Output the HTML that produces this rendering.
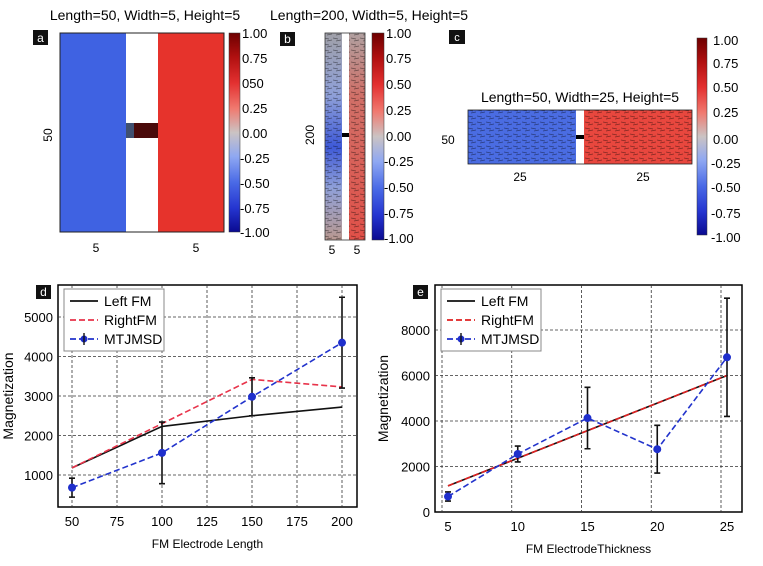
<!DOCTYPE html>
<html><head><meta charset="utf-8">
<style>
body{margin:0;background:#fff;width:763px;height:561px;overflow:hidden;font-family:"Liberation Sans",sans-serif;}
svg text{font-family:"Liberation Sans",sans-serif;}
</style></head>
<body>
<svg id="fig" width="763" height="561" xmlns="http://www.w3.org/2000/svg">
<defs>
<linearGradient id="cbar" x1="0" y1="0" x2="0" y2="1">
<stop offset="0" stop-color="#6e0000"/><stop offset="0.12" stop-color="#b01010"/>
<stop offset="0.25" stop-color="#e33030"/><stop offset="0.38" stop-color="#f07a70"/>
<stop offset="0.5" stop-color="#cbc3c3"/><stop offset="0.62" stop-color="#8fa8f2"/>
<stop offset="0.75" stop-color="#4a6ae6"/><stop offset="0.88" stop-color="#2535d0"/>
<stop offset="1" stop-color="#0a0a90"/></linearGradient>
<linearGradient id="bleft" x1="0" y1="0" x2="0" y2="1">
<stop offset="0" stop-color="#a0a0a8"/><stop offset="0.3" stop-color="#8fa0d8"/><stop offset="0.55" stop-color="#3f5ad8"/><stop offset="0.75" stop-color="#90a0d8"/><stop offset="1" stop-color="#b89890"/></linearGradient>
<linearGradient id="bright" x1="0" y1="0" x2="0" y2="1">
<stop offset="0" stop-color="#b0a0a0"/><stop offset="0.3" stop-color="#d07068"/><stop offset="1" stop-color="#e05048"/></linearGradient>
<pattern id="tex" width="9" height="6" patternUnits="userSpaceOnUse"><path d="M0 2 L5 3 M3 5 L8 4" stroke="#000" stroke-opacity="0.45" stroke-width="0.7"/></pattern>
</defs>

<!-- Panel a -->
<g>
<text x="145" y="20" font-size="14" text-anchor="middle">Length=50, Width=5, Height=5</text>
<rect x="33" y="30" width="15" height="15" fill="#111"/>
<text x="40.5" y="42" font-size="12" fill="#fff" text-anchor="middle">a</text>
<rect x="60" y="33" width="66" height="199" fill="#3f62e2"/>
<rect x="158" y="33" width="66" height="199" fill="#e6332c"/>
<rect x="126" y="123" width="32" height="15" fill="#4a0a0a"/>
<rect x="126" y="123" width="8" height="15" fill="#405070"/>
<rect x="60" y="33" width="164" height="199" fill="none" stroke="#222" stroke-width="1"/>
<text x="52" y="135" font-size="12" text-anchor="middle" transform="rotate(-90 52 135)">50</text>
<text x="96" y="252" font-size="12" text-anchor="middle">5</text>
<text x="196" y="252" font-size="12" text-anchor="middle">5</text>
<rect x="229" y="33" width="11" height="199" fill="url(#cbar)" stroke="#333" stroke-width="0.5"/>
<g font-size="13">
<text x="242" y="38">1.00</text><text x="242" y="63">0.75</text><text x="242" y="88">050</text><text x="242" y="113">0.25</text><text x="242" y="138">0.00</text><text x="240" y="163">-0.25</text><text x="240" y="188">-0.50</text><text x="240" y="213">-0.75</text><text x="240" y="237">-1.00</text></g>
</g>

<!-- Panel b -->
<g>
<text x="270" y="20" font-size="14">Length=200, Width=5, Height=5</text>
<rect x="280" y="32" width="15" height="14" fill="#111"/>
<text x="287.5" y="43" font-size="12" fill="#fff" text-anchor="middle">b</text>
<rect x="325" y="33" width="17" height="207" fill="url(#bleft)"/>
<rect x="349" y="33" width="16" height="207" fill="url(#bright)"/>
<rect x="325" y="33" width="17" height="207" fill="url(#tex)"/>
<rect x="349" y="33" width="16" height="207" fill="url(#tex)"/>
<rect x="342" y="133" width="7" height="4" fill="#000"/>
<rect x="325" y="33" width="40" height="207" fill="none" stroke="#333" stroke-width="0.8"/>
<text x="314" y="135" font-size="12" text-anchor="middle" transform="rotate(-90 314 135)">200</text>
<text x="332" y="254" font-size="12" text-anchor="middle">5</text>
<text x="357" y="254" font-size="12" text-anchor="middle">5</text>
<rect x="372" y="33" width="12" height="207" fill="url(#cbar)" stroke="#333" stroke-width="0.5"/>
<g font-size="13"><text x="386" y="38">1.00</text><text x="386" y="63">0.75</text><text x="386" y="89">0.50</text><text x="386" y="115">0.25</text><text x="386" y="141">0.00</text><text x="384" y="166">-0.25</text><text x="384" y="192">-0.50</text><text x="384" y="218">-0.75</text><text x="384" y="243">-1.00</text></g>
</g>

<!-- Panel c -->
<g>
<rect x="449" y="30" width="16" height="14" fill="#111"/>
<text x="457" y="41" font-size="11" fill="#fff" text-anchor="middle">c</text>
<text x="580" y="102" font-size="14" text-anchor="middle">Length=50, Width=25, Height=5</text>
<rect x="468" y="110" width="108" height="54" fill="#4a6ce2"/>
<rect x="584" y="110" width="108" height="54" fill="#e8473e"/>
<rect x="468" y="110" width="108" height="54" fill="url(#tex)"/>
<rect x="584" y="110" width="108" height="54" fill="url(#tex)"/>
<rect x="576" y="135" width="8" height="4" fill="#000"/>
<rect x="468" y="110" width="224" height="54" fill="none" stroke="#222" stroke-width="0.8"/>
<text x="448" y="144" font-size="12" text-anchor="middle">50</text>
<text x="520" y="181" font-size="12" text-anchor="middle">25</text>
<text x="643" y="181" font-size="12" text-anchor="middle">25</text>
<rect x="697" y="38" width="10" height="197" fill="url(#cbar)" stroke="#333" stroke-width="0.5"/>
<g font-size="13"><text x="713" y="45">1.00</text><text x="713" y="68">0.75</text><text x="713" y="92">0.50</text><text x="713" y="117">0.25</text><text x="713" y="144">0.00</text><text x="711" y="168">-0.25</text><text x="711" y="192">-0.50</text><text x="711" y="218">-0.75</text><text x="711" y="242">-1.00</text></g>
</g>

<g id="pd"></g>
<g id="pe"></g>
</svg>
<script>
const dX = [50, 100, 150, 200];
const dLeft = [1180, 2230, 2500, 2720];
const dRight = [1180, 2300, 3420, 3230];
const dMtj = [680, 1560, 2980, 4350];
const dErr = [240, 780, 480, 1150];
const dXTicks = [50, 75, 100, 125, 150, 175, 200];
const dYTicks = [1000, 2000, 3000, 4000, 5000];

const eX = [5, 10, 15, 20, 25];
const eLeft = [1150, 2362, 3575, 4787, 6000];
const eRight = [1150, 2362, 3575, 4787, 6000];
const eMtj = [680, 2550, 4130, 2760, 6800];
const eErr = [200, 350, 1350, 1050, 2600];
const eXTicks = [5, 10, 15, 20, 25];
const eYTicks = [0, 2000, 4000, 6000, 8000];

const NS = "http://www.w3.org/2000/svg";
function mk(p, tag, a){const e=document.createElementNS(NS,tag);for(const k in a)e.setAttribute(k,a[k]);p.appendChild(e);return e;}

function panel(g, cfg){
  const {x0,x1,y0,y1,sx,sy,xs,ys,xt,yt,gridOff,lbl,xl,leftCol,rightCol,L,R,M,E,xv}=cfg;
  mk(g,'rect',{x:x0,y:y0,width:x1-x0,height:y1-y0,fill:'#fff',stroke:'#000','stroke-width':1.5});
  yt.forEach(v=>{const y=sy(v);
    if(y>y0+2&&y<y1-2){const l=mk(g,'line',{x1:x0,x2:x1,y1:y,y2:y,stroke:'#333','stroke-width':0.8,'stroke-dasharray':'3,2'});
    }
    const t=mk(g,'text',{x:x0-5,y:y+5,'font-size':13,'text-anchor':'end'});t.textContent=v;
    });
  xt.forEach(v=>{const x=sx(v);
    const gx=x+gridOff;
    const l=mk(g,'line',{x1:gx,x2:gx,y1:y0,y2:y1,stroke:'#333','stroke-width':0.8,'stroke-dasharray':'3,2'});
    
    const t=mk(g,'text',{x:x,y:y1+19,'font-size':13,'text-anchor':'middle'});t.textContent=v;
    });
  const pts=a=>xv.map((v,i)=>sx(v)+','+sy(a[i])).join(' ');
  const lf=mk(g,'polyline',{points:pts(L),fill:'none',stroke:'#111','stroke-width':1.6});
  
  const rf=mk(g,'polyline',{points:pts(R),fill:'none',stroke:rightCol,'stroke-width':1.6,'stroke-dasharray':'6,3'});
  
  const mm=mk(g,'polyline',{points:pts(M),fill:'none',stroke:'#2233cc','stroke-width':1.6,'stroke-dasharray':'6,3'});
  
  xv.forEach((v,i)=>{const x=sx(v);const ya=sy(M[i]+E[i]),yb=sy(M[i]-E[i]);
    const eb=mk(g,'path',{d:`M${x} ${ya}V${yb}M${x-3} ${ya}H${x+3}M${x-3} ${yb}H${x+3}`,stroke:'#111','stroke-width':1.6,fill:'none'});
    
    const c=mk(g,'circle',{cx:x,cy:sy(M[i]),r:4,fill:'#1f2fcc'});
    });
  // label box
  const lb=mk(g,'rect',{x:x0-22,y:y0,width:15,height:14,fill:'#111'});
  const lt=mk(g,'text',{x:x0-14.5,y:y0+11,'font-size':12,fill:'#fff','text-anchor':'middle'});lt.textContent=lbl;
  
  // legend
  const lx=x0+6, ly=y0+4;
  const lg=mk(g,'g',{});
  
  mk(lg,'rect',{x:lx,y:ly,width:100,height:62,fill:'#fff',stroke:'#888','stroke-width':1});
  const names=['Left FM','RightFM','MTJMSD'];
  names.forEach((n,i)=>{const yy=ly+12+i*19;
    const ln=mk(lg,'line',{x1:lx+6,x2:lx+34,y1:yy,y2:yy,stroke:i==0?'#111':(i==1?rightCol:'#2233cc'),'stroke-width':1.8,'stroke-dasharray':i==0?'none':'6,3'});
    if(i==2){mk(lg,'circle',{cx:lx+20,cy:yy,r:3.5,fill:'#1f2fcc'});mk(lg,'line',{x1:lx+20,x2:lx+20,y1:yy-6,y2:yy+6,stroke:'#111','stroke-width':1.4});}
    const t=mk(lg,'text',{x:lx+40,y:yy+5,'font-size':14});t.textContent=n;
    });
  const xa=mk(g,'text',{x:(x0+x1)/2,y:y1+41,'font-size':12,'text-anchor':'middle'});xa.textContent=xl;
  
  const ya=mk(g,'text',{x:0,y:0,'font-size':14,'text-anchor':'middle',transform:`translate(${cfg.yTitleX},${(y0+y1)/2}) rotate(-90)`});ya.textContent='Magnetization';
  
}

panel(document.getElementById('pd'),{
  x0:58,x1:357,y0:285,y1:507,
  sx:v=>72+(v-50)*1.8, sy:v=>475-(v-1000)*0.0395,
  xt:dXTicks,yt:dYTicks,gridOff:0,lbl:'d',xl:'FM Electrode Length',
  rightCol:'#e8334a',L:dLeft,R:dRight,M:dMtj,E:dErr,xv:dX,yTitleX:13
});
panel(document.getElementById('pe'),{
  x0:435,x1:742,y0:285,y1:512,
  sx:v=>448+(v-5)*13.95, sy:v=>512-v*0.02275,
  xt:eXTicks,yt:eYTicks,gridOff:-6,lbl:'e',xl:'FM ElectrodeThickness',
  rightCol:'#e02020',L:eLeft,R:eRight,M:eMtj,E:eErr,xv:eX,yTitleX:388
});
</script>
</body></html>
